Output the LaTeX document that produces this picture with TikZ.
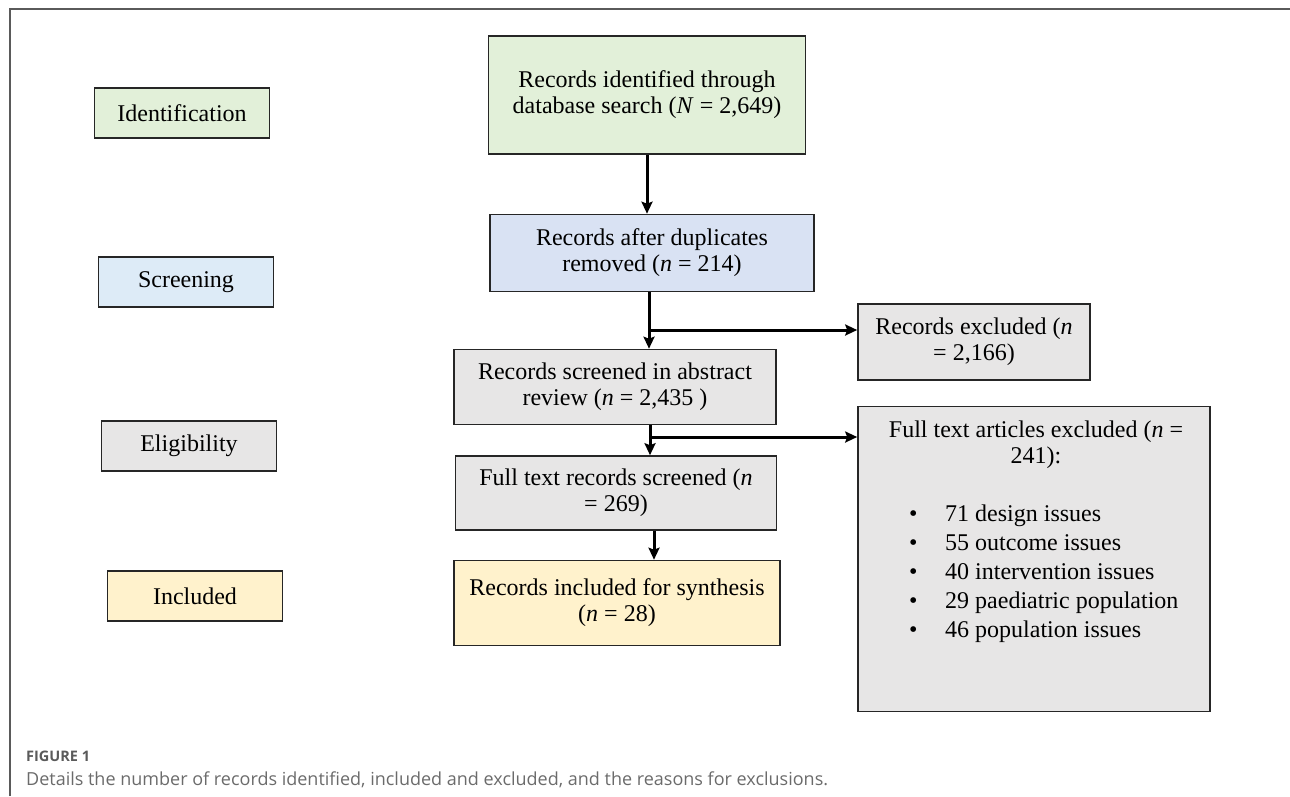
\documentclass[tikz,border=0pt]{standalone}
\usepackage{fontspec}
\setmainfont{Liberation Serif}
\newfontfamily\capfont{Open Sans}
\usepackage{tikz}
\usetikzlibrary{shapes,arrows,arrows.meta,positioning,calc}

\definecolor{idgreen}{HTML}{E2F0D9}
\definecolor{scrblue}{HTML}{DDEBF7}
\definecolor{dupblue}{HTML}{D9E2F3}
\definecolor{elggray}{HTML}{E7E6E6}
\definecolor{incyellow}{HTML}{FFF2CC}
\definecolor{framegray}{HTML}{5A5A5A}
\definecolor{capgray}{HTML}{6B6B6B}

\begin{document}
\begin{tikzpicture}[
    x=1pt, y=-1pt,
    every node/.style={font=\fontsize{24}{26}\selectfont},
    box/.style={rectangle, draw=black!85, line width=1.6pt, align=center, inner sep=0pt},
    stage/.style={box, minimum width=175pt, minimum height=50pt},
    link/.style={line width=3pt},
    arrow/.style={link, -{Stealth[length=12pt, width=11pt, inset=2pt]}}
]
\useasboundingbox (0,0) rectangle (1290,796);
\draw[framegray, line width=1.2pt] (10,796) -- (10,9) -- (1290,9);

% stage labels
\node[stage, fill=idgreen] (ident) at (182,113) {Identification};
\node[stage, fill=scrblue] (screen) at (186,282) {Screening};
\node[stage, fill=elggray] (elig) at (189,446) {Eligibility};
\node[stage, fill=incyellow] (incl) at (195,596) {Included};

% flow boxes
\node[box, fill=idgreen, minimum width=317pt, minimum height=118pt] (search) at (647,95) {Records identified through\\database search (\textit{N} = 2,649)};
\node[box, fill=dupblue, minimum width=324pt, minimum height=77pt] (dup) at (652,253) {Records after duplicates\\removed (\textit{n} = 214)};
\node[box, fill=elggray, minimum width=232pt, minimum height=76pt] (excla) at (974,342) {Records excluded (\textit{n}\\= 2,166)};
\node[box, fill=elggray, minimum width=322pt, minimum height=75pt] (abstr) at (615,387) {Records screened in abstract\\review (\textit{n} = 2,435 )};
\node[box, fill=elggray, minimum width=321pt, minimum height=74pt] (fulltx) at (616,493) {Full text records screened (\textit{n}\\= 269)};
\node[box, fill=incyellow, minimum width=326pt, minimum height=85pt] (synth) at (617,603) {Records included for synthesis\\(\textit{n} = 28)};
\node[box, fill=elggray, minimum width=352pt, minimum height=305pt] (exclb) at (1034,559) {};
\node[inner sep=0pt, align=center] (exhead) at (1036,445) {Full text articles excluded (\textit{n} =\\241):};
\node[inner sep=0pt, align=left, anchor=west, font=\fontsize{24}{29}\selectfont] (exlist) at (909,574) {%
    \makebox[36pt][l]{\textbullet}71 design issues\\
    \makebox[36pt][l]{\textbullet}55 outcome issues\\
    \makebox[36pt][l]{\textbullet}40 intervention issues\\
    \makebox[36pt][l]{\textbullet}29 paediatric population\\
    \makebox[36pt][l]{\textbullet}46 population issues};

% connectors
\coordinate (bra) at (649,330);
\coordinate (brb) at (650,437);
\draw[arrow] (search.south) -- (search.south |- dup.north);
\draw[link] (dup.south -| bra) -- (bra);
\draw[arrow] (bra) -- (abstr.north -| bra);
\draw[arrow] (bra) -- (bra -| excla.west);
\draw[link] (abstr.south -| brb) -- (brb);
\draw[arrow] (brb) -- (fulltx.north -| brb);
\draw[arrow] (brb) -- (brb -| exclb.west);
\draw[arrow] ([xshift=38pt]fulltx.south) -- ([xshift=38pt]fulltx.south |- synth.north);

% caption
\node[anchor=base west, inner sep=0pt, text=framegray, font=\capfont\bfseries\fontsize{14.5}{16}\selectfont] (figlbl) at (26,761) {FIGURE 1};
\node[anchor=base west, inner sep=0pt, text=capgray, font=\capfont\fontsize{18}{21}\selectfont] (figcap) at (26,785) {Details the number of records identified, included and excluded, and the reasons for exclusions.};
\end{tikzpicture}
\end{document}
